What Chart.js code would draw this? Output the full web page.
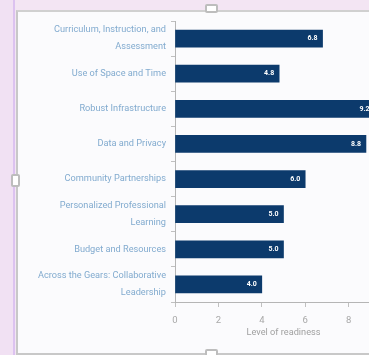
<!DOCTYPE html>
<html>
<head>
<meta charset="utf-8">
<script src="https://cdn.jsdelivr.net/npm/chart.js@4"></script>
<style>
  html, body { margin:0; padding:0; width:369px; height:355px; overflow:hidden; background:#f3e5f3; }
  #left { position:absolute; left:0; top:0; width:13px; height:355px; background:#f1e1f3; border-right:2px solid #dcc2f0; }
  #frame { position:absolute; left:16px; top:10px; width:420px; height:341px; background:#fbfbfd; border-left:2px solid #c8c8c8; border-top:2px solid #d0d0d0; border-bottom:2px solid #c8c8c8; }
  #wrap { position:absolute; left:16px; top:10px; width:390px; height:340px; }
  .h { position:absolute; background:#fff; border:2px solid #bdbdbd; border-radius:2px; }
</style>
</head>
<body>
<div id="left"></div>
<div id="frame"></div>
<div id="wrap"><canvas id="c" width="390" height="340"></canvas></div>
<div class="h" style="left:205px; top:4px; width:9px; height:5px;"></div>
<div class="h" style="left:11px; top:174px; width:5px; height:9px;"></div>
<div class="h" style="left:205px; top:349px; width:9px; height:5px;"></div>
<script>
const categories = [
  ["Curriculum, Instruction, and", "Assessment"],
  "Use of Space and Time",
  "Robust Infrastructure",
  "Data and Privacy",
  "Community Partnerships",
  ["Personalized Professional", "Learning"],
  "Budget and Resources",
  ["Across the Gears: Collaborative", "Leadership"]
];
const readiness = [6.8, 4.8, 9.2, 8.8, 6.0, 5.0, 5.0, 4.0];
const xTicks = [0, 2, 4, 6, 8, 10];

const FONT = '"Liberation Sans Narrow", "Roboto", "Liberation Sans", sans-serif';

const valueLabels = {
  id: 'valueLabels',
  afterDatasetsDraw(chart) {
    const ctx = chart.ctx;
    const meta = chart.getDatasetMeta(0);
    ctx.save();
    ctx.fillStyle = '#ffffff';
    ctx.font = 'bold 7px ' + FONT;
    ctx.textAlign = 'right';
    ctx.textBaseline = 'middle';
    meta.data.forEach((bar, i) => {
      ctx.fillText(readiness[i].toFixed(1), bar.x - 5, bar.y);
    });
    ctx.restore();
  }
};

new Chart(document.getElementById('c'), {
  type: 'bar',
  data: {
    labels: categories,
    datasets: [{
      data: readiness,
      backgroundColor: '#0c3a6c',
      borderWidth: 0,
      barThickness: 17
    }]
  },
  options: {
    indexAxis: 'y',
    responsive: false,
    animation: false,
    layout: { padding: { top: 11, right: 14, bottom: 12, left: 0 } },
    plugins: { legend: { display: false }, tooltip: { enabled: false } },
    scales: {
      x: {
        min: 0, max: 10,
        afterBuildTicks: s => { s.ticks = xTicks.map(v => ({ value: v })); },
        afterFit: s => { s.height = 36; s.paddingLeft = 0; s.paddingRight = 0; },
        border: { display: true, color: '#b5b5b5', width: 1 },
        grid: { drawOnChartArea: false, tickLength: 5, color: '#c0c0c0' },
        ticks: { color: '#a8a8a8', font: { family: FONT, size: 9.5 }, padding: 8 },
        title: { display: true, text: 'Level of readiness', color: '#a0a0a0', font: { family: FONT, size: 9.2 }, padding: { top: 0, bottom: 0 } }
      },
      y: {
        afterFit: s => { s.width = 159; s.paddingTop = 0; s.paddingBottom = 0; },
        border: { display: true, color: '#b5b5b5', width: 1 },
        grid: { drawOnChartArea: false, tickLength: 4, color: '#c0c0c0' },
        ticks: { color: '#82abcf', font: { family: FONT, size: 9.2, lineHeight: 1.85 }, padding: 5, autoSkip: false }
      }
    }
  },
  plugins: [valueLabels]
});
</script>
</body>
</html>
